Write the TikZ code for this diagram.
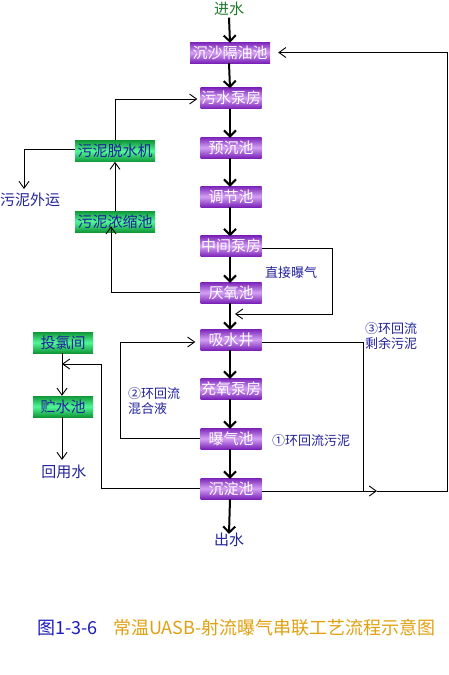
\documentclass[tikz,border=0pt]{standalone}
\usepackage{fontspec}
\setmainfont{Noto Sans CJK SC}
\usetikzlibrary{arrows.meta}
\definecolor{pdark}{HTML}{7A22B8}
\definecolor{plight}{HTML}{D4A0F4}
\definecolor{gdark}{HTML}{109838}
\definecolor{glight}{HTML}{50F898}
\definecolor{lblue}{HTML}{22229A}
\definecolor{ingreen}{HTML}{1E7A2A}
\definecolor{capblue}{HTML}{1A1AC0}
\definecolor{capgold}{HTML}{E0A010}
\tikzset{
  pbox/.style={inner sep=0pt, minimum width=61pt, minimum height=21pt,
    top color=pdark, bottom color=pdark, middle color=plight, text=white,
    font=\fontsize{15pt}{17pt}\selectfont},
  gbox/.style={inner sep=0pt, minimum width=80pt, minimum height=21pt,
    top color=gdark, bottom color=gdark, middle color=glight, text=lblue,
    font=\fontsize{15pt}{17pt}\selectfont},
  lbl/.style={inner sep=0pt, text=lblue, font=\fontsize{13pt}{15pt}\selectfont},
  txt/.style={inner sep=0pt, text=lblue, font=\fontsize{15pt}{17pt}\selectfont},
  captxt/.style={inner sep=0pt, anchor=west, font=\fontsize{18pt}{20pt}\selectfont},
  mainarr/.style={line width=2pt, -{Straight Barb[length=6pt,width=12pt]}},
  thin/.style={line width=0.9pt},
  thinarr/.style={line width=0.9pt, -{Straight Barb[length=7pt,width=10pt]}},
}
\begin{document}
\begin{tikzpicture}[x=1pt,y=-1pt]
\useasboundingbox (0,0) rectangle (448,675);
% main column
\node[inner sep=0pt, text=ingreen, font=\fontsize{15pt}{17pt}\selectfont] (in) at (229,8.5) {进水};
\node[pbox, minimum width=80pt] (b1) at (230,52.5) {沉沙隔油池};
\node[pbox] (b2) at (231,98) {污水泵房};
\node[pbox] (b3) at (231,147.5) {预沉池};
\node[pbox] (b4) at (231,196.5) {调节池};
\node[pbox] (b5) at (231,246) {中间泵房};
\node[pbox] (b6) at (231,292.5) {厌氧池};
\node[pbox] (b7) at (231,339.5) {吸水井};
\node[pbox] (b8) at (231,388.5) {充氧泵房};
\node[pbox] (b9) at (231,438.5) {曝气池};
\node[pbox] (b10) at (231,488.5) {沉淀池};
\node[txt] (out) at (229,540) {出水};
% green column
\node[gbox] (g1) at (115,151) {污泥脱水机};
\node[gbox] (g2) at (115,221.5) {污泥浓缩池};
\node[gbox, minimum width=60pt] (g3) at (63,342.5) {投氯间};
\node[gbox, minimum width=60pt] (g4) at (63,406.5) {贮水池};
\node[txt] (wy) at (30,200) {污泥外运};
\node[txt] (hy) at (64,472) {回用水};
% labels
\node[lbl] (l1) at (291,273) {直接曝气};
\node[lbl, align=left, anchor=west] (l3) at (365,336) {③环回流\\剩余污泥};
\node[lbl, align=left, anchor=west] (l2) at (128,401) {②环回流\\混合液};
\node[lbl] (l4) at (311,441) {①环回流污泥};
% caption
\node[captxt, text=capblue] (cap1) at (37,628) {图1-3-6};
\node[captxt, text=capgold] (cap2) at (113,628) {常温UASB-射流曝气串联工艺流程示意图};
% main arrows
\draw[mainarr] (in.south) ++(0,2) -- ([yshift=-1pt]b1.north);
\foreach \a/\b in {b1/b2,b2/b3,b3/b4,b4/b5,b5/b6,b6/b7,b7/b8,b8/b9,b9/b10}
  \draw[mainarr] ([xshift=-1pt]\a.south) -- ([xshift=-1pt,yshift=-1pt]\b.north);
\draw[mainarr] ([xshift=-1pt]b10.south) -- ([yshift=-1pt]out.north);
% coordinates
\coordinate (jz) at (230,314);
\coordinate (mx) at (377,491);
\coordinate (tl) at (62,364);
% sludge line
\draw[thinarr] (g1.west |- 0,149) -| (24,189);
\draw[thinarr] (g2.north) -- (g1.south);
\draw[thinarr] (g1.north) |- ([xshift=-3pt,yshift=-1pt]b2.west);
\draw[thinarr] (b6.west) -| ([xshift=-4pt,yshift=6pt]g2.south);
% direct aeration
\draw[thinarr] (b5.east |- 0,248) -| (332,314) -- ([xshift=5pt]jz);
% returns
\draw[thin] (b7.east |- 0,342) -| (363,491);
\draw[thinarr] (b10.east |- 0,491) -- (mx);
\draw[thinarr] (mx) -- (447,491) |- ([xshift=8pt]b1.east);
\draw[thinarr] (b9.west) -| (120,342) -- ([xshift=-5pt]b7.west |- 0,342);
\draw[thinarr] (b10.west |- 0,488) -| (101,364) -- (tl);
% chlorine / reuse
\draw[thinarr] (g3.south -| tl) -- (g4.north -| tl);
\draw[thinarr] (g4.south -| tl) -- (62,460);
\end{tikzpicture}
\end{document}
